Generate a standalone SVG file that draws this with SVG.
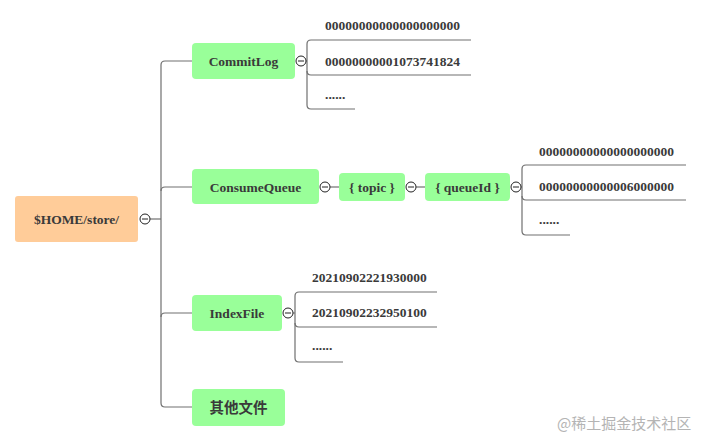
<svg xmlns="http://www.w3.org/2000/svg" width="702" height="445" viewBox="0 0 702 445">
<style>
.bg{fill:#ffffff}
.root{fill:#FFCC99}
.node{fill:#99FF99}
.t{font-family:"Liberation Serif","Times New Roman",serif;font-weight:bold;font-size:13.5px;fill:#3a3a3a}
.c{text-anchor:middle}
.cjk{font-family:"Liberation Serif","Noto Sans CJK SC",serif;font-weight:bold;font-size:14.5px;fill:#3a3a3a;text-anchor:middle}
.ln{fill:none;stroke:#707070;stroke-width:1.2}
.tog circle{fill:#ffffff;stroke:#222;stroke-width:1}
.tog line{stroke:#222;stroke-width:1}
.wm{font-family:"Noto Sans CJK SC","Noto Sans",sans-serif;font-size:15px;fill:#b4b4b4}
</style>
<defs>
<g id="tg" class="tog"><circle cx="0" cy="0" r="5"/><line x1="-3" y1="0" x2="3" y2="0"/></g>
</defs>
<rect class="bg" x="0" y="0" width="702" height="445"/>
<g id="connectors">
<path class="ln" d="M150,219 H161"/>
<path class="ln" d="M192,61 H165 Q161,61 161,65 V403 Q161,407 165,407 H192"/>
<path class="ln" d="M161,191 Q161,187 165,187 H192"/>
<path class="ln" d="M161,317 Q161,313 165,313 H192"/>
<path class="ln" d="M306,61 H307"/>
<path class="ln" d="M471,40 H311 Q307,40 307,44 V105 Q307,109 311,109 H355"/>
<path class="ln" d="M307,71 Q307,75 311,75 H471"/>
<path class="ln" d="M330,187 H339"/>
<path class="ln" d="M416,187 H425"/>
<path class="ln" d="M521,187 H522"/>
<path class="ln" d="M686,165 H526 Q522,165 522,169 V231 Q522,235 526,235 H570"/>
<path class="ln" d="M522,196 Q522,200 526,200 H686"/>
<path class="ln" d="M293,313 H295"/>
<path class="ln" d="M437,292 H299 Q295,292 295,296 V358 Q295,362 299,362 H343"/>
<path class="ln" d="M295,323 Q295,327 299,327 H437"/>
</g>
<g id="root">
<rect class="root" x="15" y="196" width="123" height="46" rx="3"/>
<text class="t c" x="76.5" y="223.5">$HOME/store/</text>
<use href="#tg" x="145" y="219"/>
</g>
<g id="commitlog">
<rect class="node" x="192" y="43" width="103" height="36" rx="4"/>
<text class="t c" x="243.5" y="65.5">CommitLog</text>
<use href="#tg" x="301" y="61"/>
</g>
<g id="commitlog-files">
<text class="t" x="325" y="29.5">00000000000000000000</text>
<text class="t" x="325" y="65.5">00000000001073741824</text>
<text class="t" x="325" y="99">......</text>
</g>
<g id="consumequeue">
<rect class="node" x="192" y="169" width="127" height="35" rx="4"/>
<text class="t c" x="255.5" y="191.5">ConsumeQueue</text>
<use href="#tg" x="325" y="187"/>
</g>
<g id="topic">
<rect class="node" x="339" y="173" width="66" height="28" rx="4"/>
<text class="t c" x="372" y="191.5">{ topic }</text>
<use href="#tg" x="411" y="187"/>
</g>
<g id="queueid">
<rect class="node" x="425" y="173" width="85" height="28" rx="4"/>
<text class="t c" x="467.5" y="191.5">{ queueId }</text>
<use href="#tg" x="516" y="187"/>
</g>
<g id="queue-files">
<text class="t" x="539" y="155.5">00000000000000000000</text>
<text class="t" x="539" y="190.5">00000000000006000000</text>
<text class="t" x="539" y="224">......</text>
</g>
<g id="indexfile">
<rect class="node" x="192" y="295" width="90" height="36" rx="4"/>
<text class="t c" x="237" y="317.5">IndexFile</text>
<use href="#tg" x="288" y="313"/>
</g>
<g id="index-files">
<text class="t" x="312" y="281.5">20210902221930000</text>
<text class="t" x="312" y="317">20210902232950100</text>
<text class="t" x="312" y="350">......</text>
</g>
<g id="other">
<rect class="node" x="192" y="389" width="93" height="37" rx="4"/>
<text class="cjk" x="238.5" y="412.5">其他文件</text>
</g>
<text class="wm" x="557" y="429">@稀土掘金技术社区</text>
</svg>
